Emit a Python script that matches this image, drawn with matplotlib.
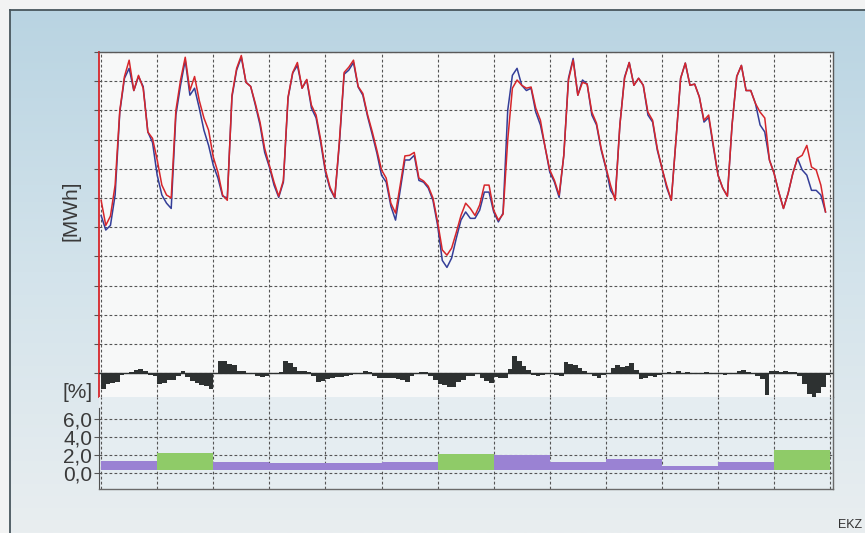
import matplotlib.pyplot as plt
import numpy as np
from matplotlib.colors import LinearSegmentedColormap
from matplotlib.lines import Line2D

plt.rcParams['font.family'] = ['Liberation Sans', 'DejaVu Sans']

# 13 days, one value every 2 hours
hours = np.arange(0, 312, 2)

# red line
load_forecast = [
    296, 253, 269, 322, 450, 508, 536, 484, 510, 488, 413, 402,
    365, 322, 305, 300, 450, 502, 541, 484, 508, 467, 437, 416,
    370, 344, 305, 296, 476, 522, 544, 498, 491, 462, 430, 385,
    356, 327, 303, 330, 473, 515, 532, 488, 503, 459, 442, 399,
    348, 318, 301, 399, 515, 524, 536, 491, 479, 443, 414, 382,
    348, 334, 291, 274, 322, 372, 373, 378, 334, 329, 320, 300,
    259, 211, 202, 214, 241, 270, 291, 282, 270, 288, 322, 322,
    279, 262, 272, 399, 488, 502, 493, 488, 490, 454, 433, 387,
    348, 330, 305, 373, 502, 536, 476, 498, 495, 447, 428, 385,
    353, 322, 296, 425, 505, 532, 493, 505, 493, 447, 433, 385,
    351, 322, 296, 399, 505, 531, 493, 495, 473, 433, 442, 390,
    339, 317, 303, 425, 508, 527, 484, 484, 462, 447, 437, 365,
    342, 310, 282, 308, 342, 368, 373, 390, 353, 348, 322, 276,
]

# blue line
load_actual = [
    270, 245, 253, 305, 447, 505, 522, 484, 508, 491, 413, 395,
    339, 305, 291, 282, 442, 493, 536, 476, 488, 454, 416, 390,
    356, 334, 303, 300, 473, 519, 541, 498, 491, 459, 425, 378,
    353, 322, 301, 327, 471, 514, 527, 488, 502, 454, 437, 394,
    344, 315, 300, 395, 512, 519, 532, 490, 476, 440, 409, 377,
    339, 327, 286, 262, 313, 365, 365, 373, 330, 327, 317, 296,
    253, 193, 181, 197, 231, 262, 276, 265, 265, 279, 310, 310,
    276, 259, 274, 450, 510, 522, 493, 484, 488, 447, 425, 387,
    344, 327, 301, 373, 505, 539, 476, 502, 495, 442, 425, 382,
    351, 313, 300, 425, 507, 532, 493, 505, 493, 442, 430, 382,
    351, 318, 296, 399, 505, 531, 493, 495, 473, 430, 438, 387,
    339, 317, 303, 425, 508, 527, 484, 484, 462, 425, 413, 365,
    342, 310, 282, 308, 342, 368, 348, 339, 313, 313, 305, 276,
]

# deviation bars [%]
deviation_pct = [
    -8, -5.5, -5, -4.5, -1, -0.5, 0.5, 1.5, 2, 1, -1, -1.5,
    -5.5, -5, -3.5, -3.5, -1.5, 1, -2, -4, -5, -6, -6.5, -8,
    0, 6, 6, 4.5, 4, 1, 1, -0.5, -0.5, -1.5, -2, -1.5,
    0, 0, 0.5, 6, 5, 3, 1, 1, 0.5, -1.5, -4.5, -4,
    -3, -2.5, -2, -2, -1.5, -1, -0.5, -0.5, 1, 0.5, -1.5, -2.5,
    -2.5, -2.5, -2.5, -3, -3.5, -4.5, -1.5, -0.5, 0.5, 0.5, -1.5, -3.5,
    -5.5, -6, -7, -7, -4.5, -3.5, -1.5, -1.5, -0.5, -2.5, -4, -5,
    -2, -2.5, -2.5, 2, 8.5, 6, 3.5, 1.5, -1, -1.5, -1, -0.5,
    -0.5, -1, -1.5, 5.5, 4.5, 4, 2.5, 1, 0, -1.5, -2.5, -1,
    0, 2.5, 4, 3, 3.5, 5, 1.5, -3, -2.5, -1.5, -2, -1,
    0, 0.5, 0, 1, -0.5, 0.5, 0, -0.5, 0, 0.5, -0.5, 0,
    -0.5, -1, -0.5, -0.5, 1, 1.5, 0.5, -0.5, -1.5, -3, -11, 1,
    1, 0.5, 1, 0.5, 0.5, -1.5, -5.5, -10.5, -12, -10, -7, -1,
]

# daily error [%]
day_error_pct = [1.3, 2.2, 1.2, 1.1, 1.1, 1.2, 2.1, 1.9, 1.2, 1.55, 0.75, 1.2, 2.5]
day_type = ['W', 'S', 'W', 'W', 'W', 'W', 'S', 'W', 'W', 'W', 'W', 'W', 'S']
error_ticks = [0, 2, 4, 6]
error_tick_labels = ['0,0', '2,0', '4,0', '6,0']

RED = '#d6262b'
BLUE = '#343e98'
PURPLE = '#9a82d3'
GREEN = '#8fcb68'
DARK = '#2d3131'
GRID = '#555555'
TXT = '#3a3a3a'
W, H = 865, 533

fig = plt.figure(figsize=(8.65, 5.33), dpi=100)
fig.patch.set_facecolor('#f2f3f3')

# blue gradient backdrop inside the frame
bg = fig.add_axes([10 / W, 0, 1 - 10 / W, 523 / H], zorder=-10)
grad = np.linspace(0, 1, 256).reshape(-1, 1)
cmap = LinearSegmentedColormap.from_list('bg', ['#b9d4e2', '#d3e3eb', '#e9eef0'])
bg.imshow(grad, aspect='auto', cmap=cmap)
bg.set_axis_off()
fig.add_artist(Line2D([10 / W, 10 / W], [0, 523 / H], transform=fig.transFigure,
                      color='#48565d', lw=1.3))
fig.add_artist(Line2D([10 / W, 1], [523 / H, 523 / H], transform=fig.transFigure,
                      color='#48565d', lw=1.3))

dash = (0, (2.5, 2))
xlim = (-0.9, 313.2)
day_edges = np.arange(0, 313, 24)

# main panel: load curves
ax = fig.add_axes([99 / W, 136 / H, 734 / W, 345 / H])
ax.set_facecolor('#f7f8f8')
ax.plot(hours, load_actual, color=BLUE, lw=1.1)
ax.plot(hours, load_forecast, color=RED, lw=1.1)
ax.set_xlim(*xlim)
ax.set_ylim(-41, 550)
ax.set_xticks(day_edges)
ax.set_yticks(np.arange(0, 551, 50))
ax.grid(True, linestyle=dash, color=GRID, lw=0.8)
ax.tick_params(axis='x', length=0, labelbottom=False)
ax.tick_params(axis='y', length=3.5, width=0.8, color=GRID, labelleft=False)
ax.spines['left'].set_color(RED)
ax.spines['left'].set_linewidth(1.3)
ax.spines['bottom'].set_visible(False)
for s in ('top', 'right'):
    ax.spines[s].set_color('#5a5a5a')
    ax.spines[s].set_linewidth(1.0)

# deviation bars on a twin scale
dev = ax.twinx()
dev.set_ylim(-12, 160.5)
dev.bar(hours, deviation_pct, width=2, align='edge', color=DARK, lw=0)
dev.axhline(0, color=DARK, lw=1)
dev.set_yticks([])
for s in dev.spines.values():
    s.set_visible(False)

# bottom panel: daily error
ax2 = fig.add_axes([99 / W, 44 / H, 734 / W, 92 / H])
ax2.set_facecolor('#e5edf1')
ax2.set_axisbelow(True)
colors = [GREEN if t == 'S' else PURPLE for t in day_type]
base = 0.25
ax2.bar(day_edges[:-1], np.array(day_error_pct) - base, bottom=base, width=24,
        align='edge', color=colors, lw=0)
ax2.set_xlim(*xlim)
ax2.set_ylim(-1.83, 8.39)
ax2.set_xticks(day_edges)
ax2.set_yticks(error_ticks, error_tick_labels)
ax2.grid(True, linestyle=dash, color=GRID, lw=0.8)
ax2.tick_params(axis='x', length=0, labelbottom=False)
ax2.tick_params(axis='y', length=3.5, width=0.8, color=GRID, pad=1.5,
                labelsize=15, labelcolor=TXT)
ax2.spines['top'].set_visible(False)
ax2.spines['left'].set_color('#505050')
ax2.spines['left'].set_bounds(-1.83, 7.17)
for s in ('bottom', 'right'):
    ax2.spines[s].set_color('#6a6a6a')
    ax2.spines[s].set_linewidth(1.0)

fig.text(71 / W, 1 - 211 / H, '[MWh]', rotation=90, ha='center', va='center',
         fontsize=15, color=TXT)
fig.text(93 / W, 1 - 392 / H, '[%]', ha='right', va='center', fontsize=15, color=TXT)
fig.text(862 / W, 1 - 531 / H, 'EKZ', ha='right', va='bottom', fontsize=9, color='#333333')

fig.savefig('out.png', dpi=100)
